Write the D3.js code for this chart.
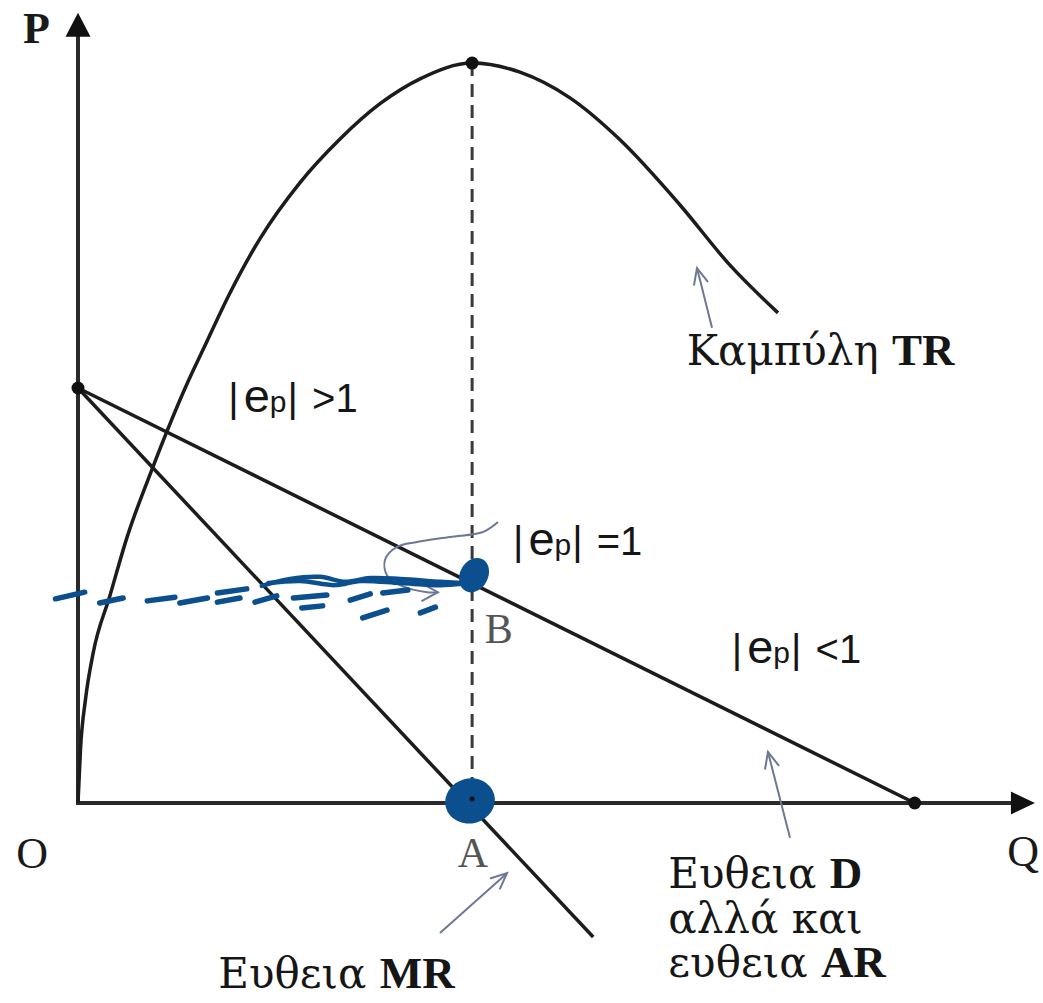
<!DOCTYPE html>
<html>
<head>
<meta charset="utf-8">
<script src="https://cdn.jsdelivr.net/npm/d3@7"></script>
<style>
  html, body { margin: 0; padding: 0; background: #fff; }
  svg { display: block; }
</style>
</head>
<body>
<svg id="chart" width="1043" height="1003"></svg>
<script>
// ---- Model values (quantity Q, price / revenue P) ----
const axisEnds = { qMax: 11.46, pMax: 19.04 };
const demandLine = [[0, 10], [10.02, 0]];          // D = AR
const mrLine = [[0, 10], [6.17, -3.23]];           // MR
const qUnit = 4.72;                                 // Q where MR = 0, TR max
const trPeak = [4.72, 17.83];
const trCurve = [
  [0, 0], [0.03, 1.3], [0.09, 2.5], [0.18, 3.6], [0.383, 5.0],
  [0.587, 6.4], [0.898, 8.1], [1.317, 10.15], [1.497, 10.92], [1.82, 12.29],
  [2.18, 13.6], [2.659, 14.95], [3.138, 16.0], [3.617, 16.85], [4.096, 17.45],
  [4.72, 17.83], [5.293, 17.61], [5.892, 16.99], [6.491, 15.98], [7.21, 14.41],
  [7.808, 12.96], [8.383, 11.81]
];
const keyPoints = [[0, 10], [10.02, 0], trPeak];

// ---- Labels ----
const axisLabels = [
  { text: "P", q: -0.66, p: 18.31, anchor: "start", bold: true },
  { text: "O", q: -0.55, p: -1.57, anchor: "middle", bold: false },
  { text: "Q", q: 11.32, p: -1.52, anchor: "middle", bold: false }
];
const pointLabels = [
  { text: "A", q: 4.73, p: -1.54, anchor: "middle" },
  { text: "B", q: 4.87, p: 3.86, anchor: "start" }
];
const elasticityLabels = [
  { rel: ">1", q: 1.80, p: 9.42 },
  { rel: "=1", q: 5.21, p: 5.98 },
  { rel: "<1", q: 7.83, p: 3.37 }
];
const curveLabels = [
  { lines: [["Καμπύλη ", "TR"]], q: 7.29, p: 10.55 },
  { lines: [["Ευθεια ", "D"], ["αλλά και", ""], ["ευθεια ", "AR"]], q: 7.07, p: -2.05 },
  { lines: [["Ευθεια ", "MR"]], q: 1.68, p: -4.46 }
];

// ---- Pointer arrows (tail -> tip) ----
const pointers = [
  [[7.593, 11.45], [7.413, 12.89]],
  [[8.527, -0.84], [8.263, 1.23]],
  [[4.335, -3.13], [5.138, -1.69]]
];
const curlPointer = [
  [5.03, 6.77], [4.85, 6.53], [4.455, 6.41], [4.06, 6.29], [3.82, 6.17],
  [3.677, 5.86], [3.70, 5.49], [3.856, 5.25], [4.18, 5.08], [4.31, 5.08]
];

// ---- Hand-drawn marker strokes ----
const markerDots = [
  { q: 4.743, p: 5.49, rx: 14, ry: 18, rot: 28 },
  { q: 4.695, p: 0.05, rx: 25, ry: 22.5, rot: -15 }
];
const markerDashes = [
  [[-0.27, 4.92], [0.08, 5.08]], [[0.26, 4.82], [0.54, 4.94]], [[0.83, 4.87], [1.16, 4.96]],
  [[1.22, 4.82], [1.55, 4.94]], [[1.67, 4.84], [1.94, 4.94]], [[1.67, 5.06], [2.02, 5.16]],
  [[2.12, 4.84], [2.38, 4.99]], [[2.58, 4.94], [2.98, 5.01]], [[2.68, 4.70], [2.93, 4.75]],
  [[3.26, 4.89], [3.50, 5.04]], [[3.41, 4.46], [3.70, 4.65]], [[3.65, 5.06], [3.95, 5.13]],
  [[4.10, 4.58], [4.28, 4.72]]
];
const markerStrands = [
  [[2.20, 5.23], [2.54, 5.40], [2.90, 5.45], [3.20, 5.33], [3.50, 5.42], [3.86, 5.40], [4.34, 5.33], [4.60, 5.30]],
  [[2.28, 5.30], [2.66, 5.35], [3.08, 5.25], [3.38, 5.35], [3.86, 5.30], [4.34, 5.25], [4.60, 5.28]]
];

// ---- Scales ----
const x = d3.scaleLinear().domain([0, 10]).range([78, 913]);
const y = d3.scaleLinear().domain([0, 10]).range([803, 388]);

const svg = d3.select("#chart");
const ink = "#1c1c1c";
const pointerInk = "#6c7894";
const marker = "#0b4f8e";
const serif = "'Liberation Serif', 'DejaVu Serif', serif";
const greekSerif = "'DejaVu Serif', 'Liberation Serif', serif";
const sans = "'Liberation Sans', Arial, sans-serif";

const line = d3.line().x(d => x(d[0])).y(d => y(d[1]));

// Open arrowhead drawn at the end of a pixel segment
function headPath(p0, p1, len, spread) {
  const a = Math.atan2(p1[1] - p0[1], p1[0] - p0[0]);
  const l = [p1[0] - len * Math.cos(a - spread), p1[1] - len * Math.sin(a - spread)];
  const r = [p1[0] - len * Math.cos(a + spread), p1[1] - len * Math.sin(a + spread)];
  return `M${l[0]},${l[1]}L${p1[0]},${p1[1]}L${r[0]},${r[1]}`;
}

// ---- Axes with arrowheads ----
const ox = x(0), oy = y(0);
const yTop = y(axisEnds.pMax), xEnd = x(axisEnds.qMax);
svg.append("line").attr("x1", ox).attr("y1", oy).attr("x2", ox).attr("y2", yTop + 22)
  .attr("stroke", "#2a2a2a").attr("stroke-width", 4);
svg.append("line").attr("x1", ox - 2).attr("y1", oy).attr("x2", xEnd - 22).attr("y2", oy)
  .attr("stroke", "#2a2a2a").attr("stroke-width", 4);
svg.append("path").attr("d", `M${ox},${yTop}L${ox - 12.5},${yTop + 24}L${ox + 12.5},${yTop + 24}Z`).attr("fill", "#111");
svg.append("path").attr("d", `M${xEnd},${oy}L${xEnd - 24},${oy - 11.5}L${xEnd - 24},${oy + 11.5}Z`).attr("fill", "#111");

// ---- Dashed guide at the revenue maximum ----
svg.append("line")
  .attr("x1", x(qUnit)).attr("y1", y(trPeak[1])).attr("x2", x(qUnit)).attr("y2", oy)
  .attr("stroke", "#3a3a3a").attr("stroke-width", 3).attr("stroke-dasharray", "13 8");

// ---- D, MR and TR ----
svg.append("path").attr("d", line(demandLine)).attr("fill", "none").attr("stroke", ink).attr("stroke-width", 3.5);
svg.append("path").attr("d", line(mrLine)).attr("fill", "none").attr("stroke", ink).attr("stroke-width", 3.5);
svg.append("path").attr("d", d3.line().curve(d3.curveMonotoneX).x(d => x(d[0])).y(d => y(d[1]))(trCurve))
  .attr("fill", "none").attr("stroke", ink).attr("stroke-width", 3.5);

svg.selectAll("circle.key").data(keyPoints).join("circle").attr("class", "key")
  .attr("cx", d => x(d[0])).attr("cy", d => y(d[1])).attr("r", 6.5).attr("fill", "#111");

// ---- Text ----
svg.selectAll("text.axis").data(axisLabels).join("text").attr("class", "axis")
  .attr("x", d => x(d.q)).attr("y", d => y(d.p)).attr("text-anchor", d => d.anchor)
  .attr("font-family", serif).attr("font-size", 44).attr("font-weight", d => d.bold ? "bold" : "normal")
  .attr("fill", "#1a1a1a").text(d => d.text);

svg.selectAll("text.pt").data(pointLabels).join("text").attr("class", "pt")
  .attr("x", d => x(d.q)).attr("y", d => y(d.p)).attr("text-anchor", d => d.anchor)
  .attr("font-family", serif).attr("font-size", 42).attr("fill", "#555").text(d => d.text);

elasticityLabels.forEach(d => {
  const t = svg.append("text").attr("x", x(d.q)).attr("y", y(d.p))
    .attr("font-family", sans).attr("font-size", 40).attr("fill", "#161616");
  t.append("tspan").text("|");
  t.append("tspan").attr("dx", 5).attr("font-size", 47).text("e");
  t.append("tspan").attr("font-size", 30).text("p");
  t.append("tspan").attr("dx", 1).text("|");
  t.append("tspan").attr("dx", 3).text(" " + d.rel);
});

curveLabels.forEach(d => {
  d.lines.forEach((ln, i) => {
    const t = svg.append("text").attr("x", x(d.q)).attr("y", y(d.p) + i * 44.5)
      .attr("font-family", greekSerif).attr("font-size", 42).attr("fill", "#161616");
    t.append("tspan").text(ln[0]);
    if (ln[1]) t.append("tspan").attr("font-family", serif).attr("font-size", 45)
      .attr("font-weight", "bold").text(ln[1]);
  });
});

// ---- Pointer arrows ----
pointers.forEach(pr => {
  const p0 = [x(pr[0][0]), y(pr[0][1])], p1 = [x(pr[1][0]), y(pr[1][1])];
  svg.append("path").attr("d", `M${p0[0]},${p0[1]}L${p1[0]},${p1[1]}`)
    .attr("stroke", pointerInk).attr("stroke-width", 2).attr("fill", "none");
  svg.append("path").attr("d", headPath(p0, p1, 17, 0.42))
    .attr("stroke", pointerInk).attr("stroke-width", 2).attr("fill", "none").attr("stroke-linecap", "round");
});
{
  const pts = curlPointer.map(d => [x(d[0]), y(d[1])]);
  svg.append("path").attr("d", d3.line().curve(d3.curveCatmullRom)(pts))
    .attr("stroke", pointerInk).attr("stroke-width", 2).attr("fill", "none");
  const n = pts.length;
  svg.append("path").attr("d", headPath(pts[n - 2], pts[n - 1], 18, 0.5))
    .attr("stroke", pointerInk).attr("stroke-width", 2).attr("fill", "none").attr("stroke-linecap", "round");
}

// ---- Hand-drawn marker strokes ----
const mk = svg.append("g").attr("stroke", marker).attr("fill", "none").attr("stroke-linecap", "round");
mk.selectAll("path.dash").data(markerDashes).join("path").attr("class", "dash")
  .attr("d", d => line(d)).attr("stroke-width", 5.5);
mk.selectAll("path.strand").data(markerStrands).join("path").attr("class", "strand")
  .attr("d", d => d3.line().curve(d3.curveCatmullRom).x(p => x(p[0])).y(p => y(p[1]))(d))
  .attr("stroke-width", 4.5);
svg.selectAll("ellipse.mk").data(markerDots).join("ellipse").attr("class", "mk")
  .attr("cx", 0).attr("cy", 0).attr("rx", d => d.rx).attr("ry", d => d.ry)
  .attr("transform", d => `translate(${x(d.q)},${y(d.p)}) rotate(${d.rot})`)
  .attr("fill", marker);
svg.append("circle").attr("cx", x(qUnit)).attr("cy", y(0) - 4).attr("r", 2.5).attr("fill", "#111");
</script>
</body>
</html>
